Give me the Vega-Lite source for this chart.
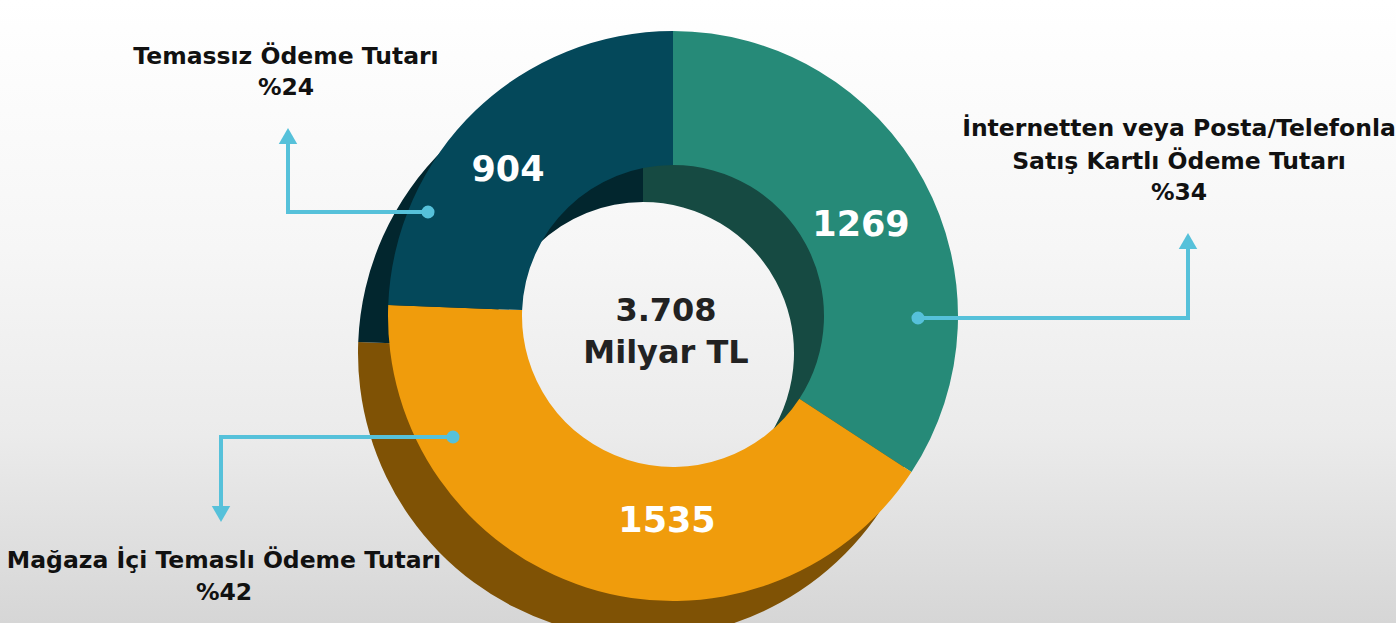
{
  "$schema": "https://vega.github.io/schema/vega-lite/v6.json",
  "width": 1396,
  "height": 623,
  "autosize": {"type": "none"},
  "padding": 0,
  "background": "#ffffff",
  "config": {
    "view": {
      "stroke": null,
      "fill": {
        "gradient": "linear",
        "x1": 0, "y1": 0, "x2": 0, "y2": 1,
        "stops": [
          {"offset": 0, "color": "#ffffff"},
          {"offset": 0.4, "color": "#f6f6f6"},
          {"offset": 0.7, "color": "#ebebeb"},
          {"offset": 1, "color": "#d6d6d6"}
        ]
      }
    },
    "text": {"font": "DejaVu Sans", "fontWeight": "bold"}
  },
  "datasets": {
    "slices": [
      {"segment": "İnternetten veya Posta/Telefonla Satış Kartlı Ödeme Tutarı", "value": 1269, "rank": 1},
      {"segment": "Mağaza İçi Temaslı Ödeme Tutarı", "value": 1535, "rank": 2},
      {"segment": "Temassız Ödeme Tutarı", "value": 904, "rank": 3}
    ],
    "valueLabels": [
      {"label": "1269", "x": 861, "y": 225},
      {"label": "1535", "x": 667, "y": 521},
      {"label": "904", "x": 508, "y": 170}
    ],
    "centerText": [
      {"label": "3.708", "x": 666, "y": 311},
      {"label": "Milyar TL", "x": 666, "y": 353}
    ],
    "callouts": [
      {"label": "Temassız Ödeme Tutarı", "x": 286, "y": 57},
      {"label": "%24", "x": 286, "y": 88},
      {"label": "İnternetten veya Posta/Telefonla", "x": 1179, "y": 129},
      {"label": "Satış Kartlı Ödeme Tutarı", "x": 1179, "y": 162},
      {"label": "%34", "x": 1179, "y": 193},
      {"label": "Mağaza İçi Temaslı Ödeme Tutarı", "x": 224, "y": 561},
      {"label": "%42", "x": 224, "y": 593}
    ],
    "leaders": [
      {"id": "a", "step": 1, "x": 428, "y": 212},
      {"id": "a", "step": 2, "x": 288, "y": 212},
      {"id": "a", "step": 3, "x": 288, "y": 140},
      {"id": "b", "step": 1, "x": 918, "y": 318},
      {"id": "b", "step": 2, "x": 1188, "y": 318},
      {"id": "b", "step": 3, "x": 1188, "y": 245},
      {"id": "c", "step": 1, "x": 453, "y": 437},
      {"id": "c", "step": 2, "x": 221, "y": 437},
      {"id": "c", "step": 3, "x": 221, "y": 510}
    ],
    "dots": [
      {"x": 428, "y": 212},
      {"x": 918, "y": 318},
      {"x": 453, "y": 437}
    ],
    "arrowsUp": [
      {"x": 288, "y": 136},
      {"x": 1188, "y": 241}
    ],
    "arrowsDown": [
      {"x": 221, "y": 514}
    ]
  },
  "resolve": {"scale": {"color": "independent"}},
  "layer": [
    {
      "data": {"name": "slices"},
      "transform": [
        {"stack": "value", "groupby": [], "sort": [{"field": "rank", "order": "ascending"}], "as": ["v0", "v1"]}
      ],
      "mark": {"type": "arc", "outerRadius": 285, "innerRadius": 151},
      "encoding": {
        "x": {"datum": 643, "type": "quantitative", "scale": {"domain": [0, 1396], "nice": false, "zero": false}, "axis": null},
        "y": {"datum": 353, "type": "quantitative", "scale": {"domain": [0, 623], "nice": false, "zero": false, "reverse": true}, "axis": null},
        "theta": {"field": "v0", "type": "quantitative", "scale": {"domain": [0, 3708], "nice": false}},
        "theta2": {"field": "v1"},
        "color": {
          "field": "segment", "type": "nominal", "legend": null,
          "scale": {
            "domain": ["İnternetten veya Posta/Telefonla Satış Kartlı Ödeme Tutarı", "Mağaza İçi Temaslı Ödeme Tutarı", "Temassız Ödeme Tutarı"],
            "range": ["#164a42", "#7f5205", "#02262e"]
          }
        }
      }
    },
    {
      "data": {"name": "slices"},
      "transform": [
        {"stack": "value", "groupby": [], "sort": [{"field": "rank", "order": "ascending"}], "as": ["v0", "v1"]}
      ],
      "mark": {"type": "arc", "outerRadius": 285, "innerRadius": 151},
      "encoding": {
        "x": {"datum": 673, "type": "quantitative"},
        "y": {"datum": 316, "type": "quantitative"},
        "theta": {"field": "v0", "type": "quantitative"},
        "theta2": {"field": "v1"},
        "color": {
          "field": "segment", "type": "nominal", "legend": null,
          "scale": {
            "domain": ["İnternetten veya Posta/Telefonla Satış Kartlı Ödeme Tutarı", "Mağaza İçi Temaslı Ödeme Tutarı", "Temassız Ödeme Tutarı"],
            "range": ["#268a78", "#f09c0c", "#04485a"]
          }
        }
      }
    },
    {
      "data": {"name": "leaders"},
      "mark": {"type": "line", "color": "#56c1da", "strokeWidth": 4, "strokeJoin": "miter"},
      "encoding": {
        "x": {"field": "x", "type": "quantitative"},
        "y": {"field": "y", "type": "quantitative"},
        "detail": {"field": "id"},
        "order": {"field": "step"}
      }
    },
    {
      "data": {"name": "dots"},
      "mark": {"type": "point", "shape": "circle", "filled": true, "opacity": 1, "color": "#56c1da", "size": 170},
      "encoding": {
        "x": {"field": "x", "type": "quantitative"},
        "y": {"field": "y", "type": "quantitative"}
      }
    },
    {
      "data": {"name": "arrowsUp"},
      "mark": {"type": "point", "shape": "triangle-up", "filled": true, "opacity": 1, "color": "#56c1da", "size": 340},
      "encoding": {
        "x": {"field": "x", "type": "quantitative"},
        "y": {"field": "y", "type": "quantitative"}
      }
    },
    {
      "data": {"name": "arrowsDown"},
      "mark": {"type": "point", "shape": "triangle-down", "filled": true, "opacity": 1, "color": "#56c1da", "size": 340},
      "encoding": {
        "x": {"field": "x", "type": "quantitative"},
        "y": {"field": "y", "type": "quantitative"}
      }
    },
    {
      "data": {"name": "valueLabels"},
      "mark": {"type": "text", "fontSize": 35, "color": "#ffffff", "baseline": "middle", "align": "center"},
      "encoding": {
        "x": {"field": "x", "type": "quantitative"},
        "y": {"field": "y", "type": "quantitative"},
        "text": {"field": "label"}
      }
    },
    {
      "data": {"name": "centerText"},
      "mark": {"type": "text", "fontSize": 32, "color": "#222222", "baseline": "middle", "align": "center"},
      "encoding": {
        "x": {"field": "x", "type": "quantitative"},
        "y": {"field": "y", "type": "quantitative"},
        "text": {"field": "label"}
      }
    },
    {
      "data": {"name": "callouts"},
      "mark": {"type": "text", "fontSize": 23.5, "color": "#111111", "baseline": "middle", "align": "center"},
      "encoding": {
        "x": {"field": "x", "type": "quantitative"},
        "y": {"field": "y", "type": "quantitative"},
        "text": {"field": "label"}
      }
    }
  ]
}
